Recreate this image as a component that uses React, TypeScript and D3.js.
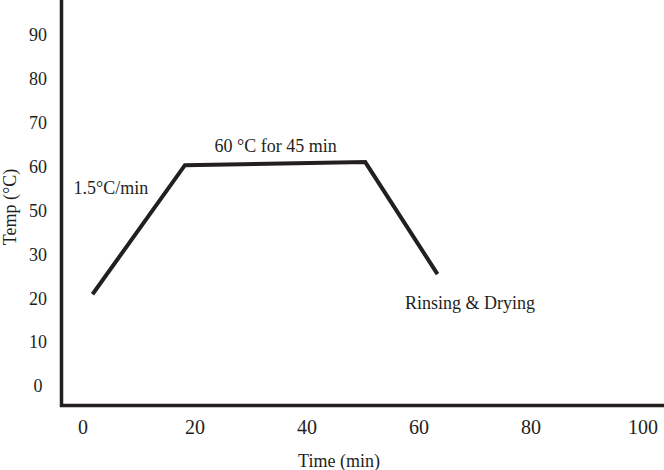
import React from 'react';
import * as d3 from 'd3';

// profile of the treatment: time (min) vs temperature (°C)
const timeMin = [1.7, 18.2, 50.4, 63.3];
const tempC = [20.9, 60.3, 61.0, 25.5];

const xTicks = [0, 20, 40, 60, 80, 100];
// the source axis skips 40
const yTicks = [0, 10, 20, 30, 50, 60, 70, 80, 90];

const notes = [
  { text: '1.5°C/min', t: -1.7, v: 53.7 },
  { text: '60 °C for 45 min', t: 23.5, v: 63.3 },
  { text: 'Rinsing & Drying', t: 57.5, v: 17.5 },
];

const W = 664;
const H = 470;
const ink = '#231f20';
const font = '"Liberation Serif", "Times New Roman", serif';

export default function App() {
  const x = d3.scaleLinear().domain([0, 100]).range([83, 643]);
  // piecewise so labels sit evenly like the original (no 40 label)
  const y = d3.scaleLinear()
    .domain([0, 30, 50, 90])
    .range([386, 386 - 3 * 43.9, 386 - 4 * 43.9, 386 - 8 * 43.9]);

  const pts = timeMin.map((t, i) => [t, tempC[i]] as [number, number]);
  const line = d3.line<[number, number]>()
    .x(d => x(d[0]))
    .y(d => y(d[1]));

  const axisX = 61.5;
  const axisY = 405.5;

  return (
    <svg width={W} height={H} style={{ position: 'absolute', left: 0, top: 0, background: '#fff' }}
      fontFamily={font} fill={ink}>
      <rect width={W} height={H} fill="#fff" />
      {/* axes */}
      <path d={`M${axisX},0V${axisY}H${W}`} fill="none" stroke={ink} strokeWidth={3.5} />

      {yTicks.map(v => (
        <text key={'y' + v} x={38} y={y(v)} dy="0.35em" textAnchor="middle" fontSize={18}>{v}</text>
      ))}
      {xTicks.map(v => (
        <text key={'x' + v} x={x(v)} y={427} dy="0.35em" textAnchor="middle" fontSize={20}>{v}</text>
      ))}

      <text x={339} y={467} textAnchor="middle" fontSize={18}>Time (min)</text>
      <text transform={`translate(16,207) rotate(-90)`} textAnchor="middle" fontSize={18}>Temp (°C)</text>

      <path d={line(pts) || ''} fill="none" stroke={ink} strokeWidth={4} strokeLinejoin="miter" />

      {notes.map(n => (
        <text key={n.text} x={x(n.t)} y={y(n.v)} fontSize={18}>{n.text}</text>
      ))}
    </svg>
  );
}
